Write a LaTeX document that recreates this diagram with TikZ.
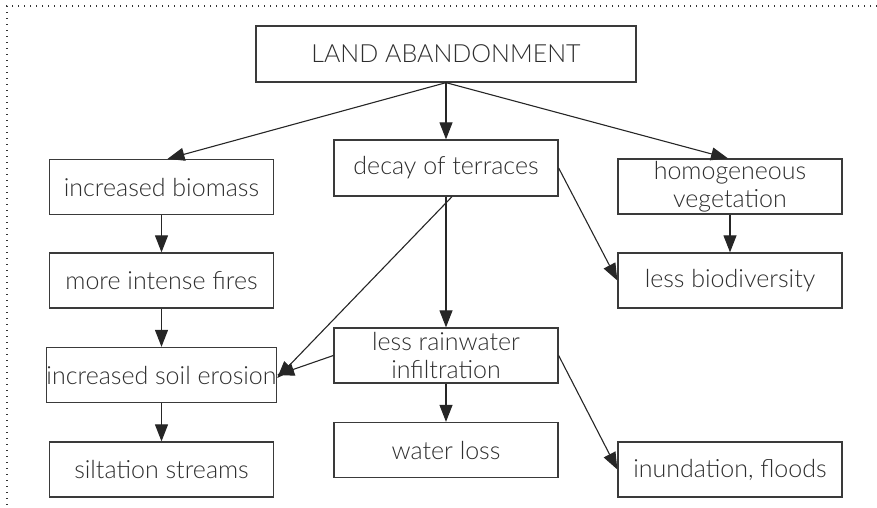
\documentclass[tikz,border=0pt]{standalone}
\usepackage{fontspec}
\setmainfont{Lato}[UprightFont=* Light]
\usetikzlibrary{arrows.meta}
\definecolor{ink}{HTML}{2E2E2E}
\definecolor{edge}{HTML}{3A3A3A}
\begin{document}
\begin{tikzpicture}[x=1pt,y=-1pt,
  box/.style={draw=edge, line width=1.3pt, inner sep=0pt, align=center,
    minimum width=224pt, minimum height=55pt, text=ink,
    font=\fontsize{25}{28}\selectfont},
  link/.style={draw=black!85, line width=1.1pt,
    -{Triangle[length=17pt,width=13pt]}},
  frame/.style={draw=black!80, line width=1.4pt, dash pattern=on 1.4pt off 4.6pt}]
  \useasboundingbox (0,0) rectangle (877,507);
  % dotted frame along the top and left
  \draw[frame] (877,6) -- (7,6) -- (7,507);

  % boxes
  \node[box, minimum width=380pt, minimum height=56pt] (land) at (446,54) {LAND ABANDONMENT};
  \node[box] (biomass) at (161.5,187) {increased biomass};
  \node[box] (fires)   at (161.5,280.5) {more intense fires};
  \node[box] (erosion) at (161.5,375) {increased soil erosion};
  \node[box] (silt)    at (161.5,469.5) {siltation streams};
  \node[box, minimum height=56pt] (decay) at (446,168) {decay of terraces};
  \node[box] (rain)    at (446,355.5) {less rainwater\\infiltration};
  \node[box] (water)   at (446,450) {water loss};
  \node[box] (homog)   at (730,186.5) {homogeneous\\vegetation};
  \node[box] (biodiv)  at (730,280.5) {less biodiversity};
  \node[box] (flood)   at (730,469.5) {inundation, floods};

  % connectors
  \draw[link] (land.south) -- ([xshift=6pt]biomass.north);
  \draw[link] (land.south) -- (decay.north);
  \draw[link] (land.south) -- ([xshift=-2pt]homog.north);
  \draw[link] (biomass) -- (fires);
  \draw[link] (fires) -- (erosion);
  \draw[link] (erosion) -- (silt);
  \draw[link] (homog) -- (biodiv);
  \draw[link] (decay.east) -- (biodiv.west);
  \draw[link] (decay.south) -- (rain.north);
  \draw[link] ([xshift=6pt]decay.south) -- ([yshift=-3pt]erosion.east);
  \draw[link] (rain.west) -- (erosion.east);
  \draw[link] (rain.east) -- (flood.west);
  \draw[link] (rain) -- (water);
\end{tikzpicture}
\end{document}
